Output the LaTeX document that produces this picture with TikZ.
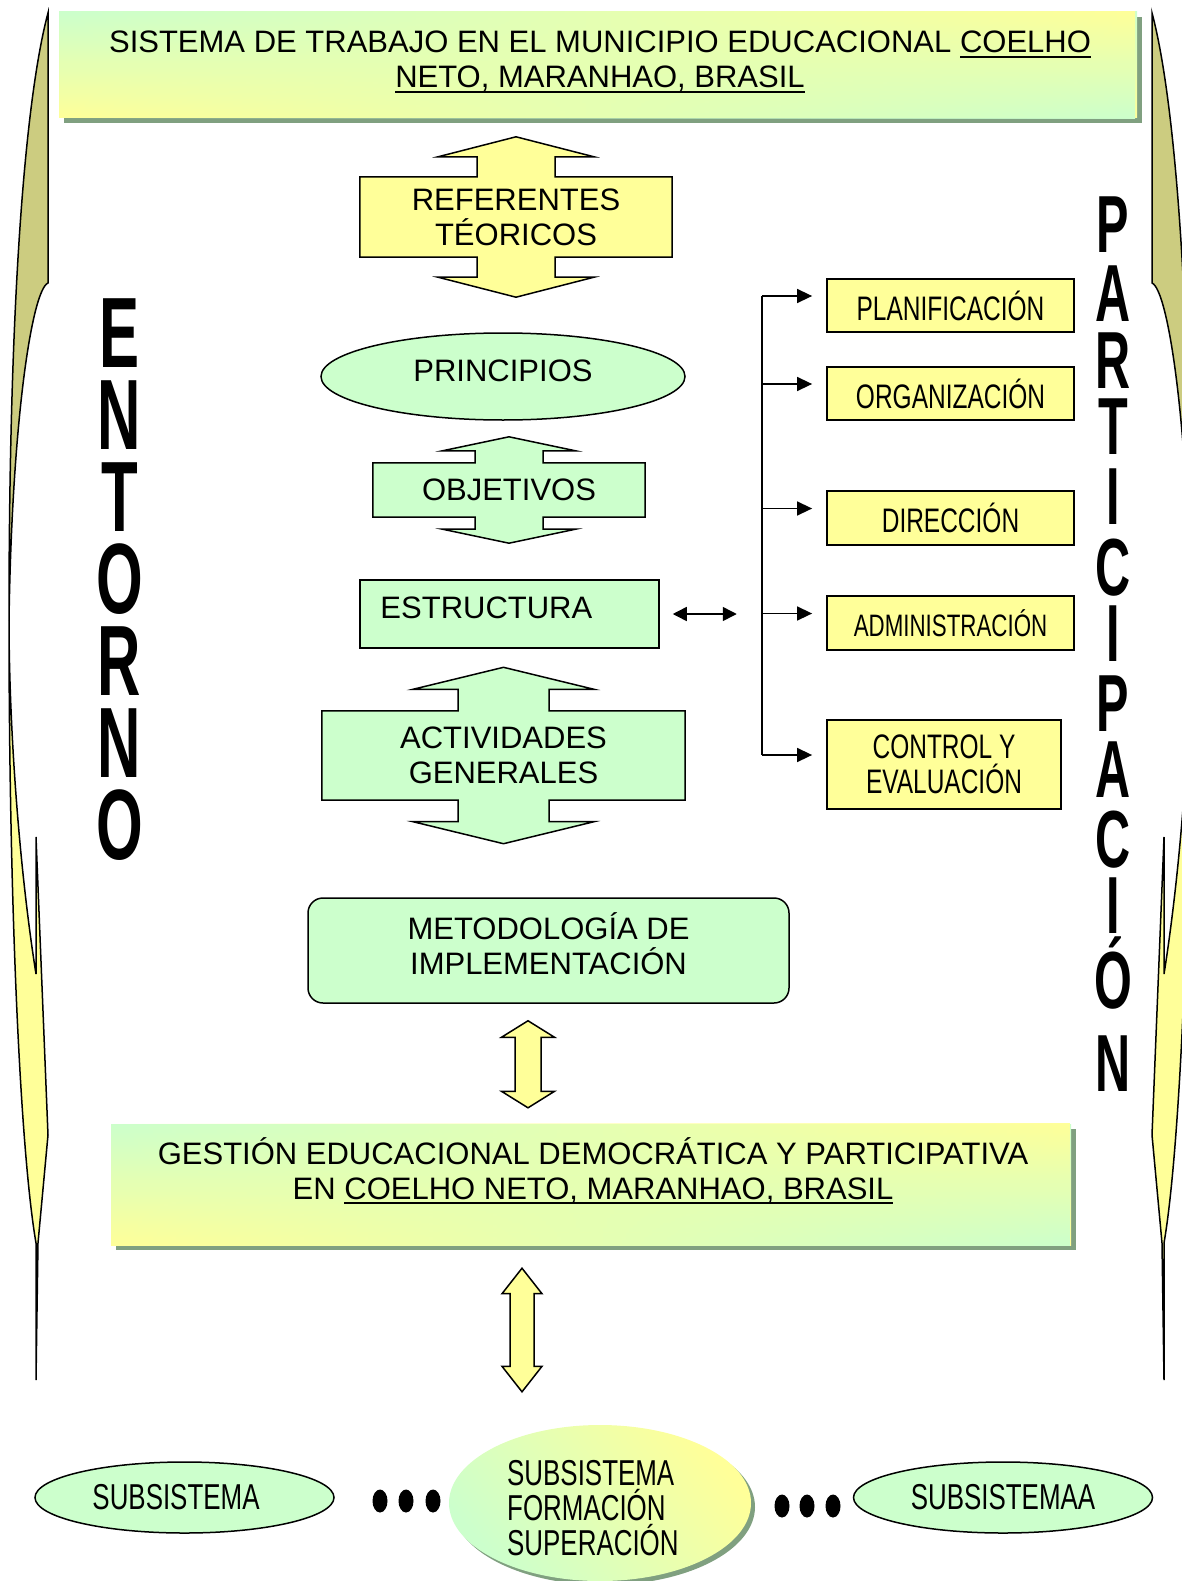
\documentclass[tikz,border=0pt]{standalone}
\usepackage{fontspec}
\setmainfont{Liberation Sans}
\newfontfamily\narrowfont[FakeStretch=0.72]{Liberation Sans}
\newfontfamily\tallfont[FakeStretch=0.6]{Liberation Sans Bold}
\usetikzlibrary{shapes.geometric,arrows.meta,calc,backgrounds,fadings,shadows}

\definecolor{cgreen}{RGB}{204,255,204}
\definecolor{cyellow}{RGB}{255,255,153}
\definecolor{colive}{RGB}{204,204,128}
\definecolor{cshadow}{RGB}{128,160,128}

\tikzfading[name=fadeinright, left color=transparent!100, right color=transparent!0]

\newcommand{\bodyfont}{\fontsize{31}{35}\selectfont}
\newcommand{\smallnarrow}{\narrowfont\fontsize{34}{35}\selectfont}
\newcommand{\undl}[1]{\setbox0\hbox{#1}\rlap{\rule[-5pt]{\wd0}{2pt}}\box0}

% up-down arrow callout round a node: name, style, shaft, head, neck, head length
\newcommand{\udcallout}[6]{%
  \draw[#2] (#1.north west) -- ($(#1.north)+(-#3,0)$) -- ($(#1.north)+(-#3,-#5)$)
    -- ($(#1.north)+(-#4,-#5)$) -- ($(#1.north)+(0,-#5-#6)$)
    -- ($(#1.north)+(#4,-#5)$) -- ($(#1.north)+(#3,-#5)$) -- ($(#1.north)+(#3,0)$)
    -- (#1.north east) -- (#1.south east)
    -- ($(#1.south)+(#3,0)$) -- ($(#1.south)+(#3,#5)$) -- ($(#1.south)+(#4,#5)$)
    -- ($(#1.south)+(0,#5+#6)$) -- ($(#1.south)+(-#4,#5)$) -- ($(#1.south)+(-#3,#5)$)
    -- ($(#1.south)+(-#3,0)$) -- (#1.south west) -- cycle;}

% block arrow with two heads: top tip, bottom tip, shaft, head, head length
\newcommand{\blockarrow}[5]{%
  \draw[ycall] (#1) -- ($(#1)+(#4,#5)$) -- ($(#1)+(#3,#5)$) -- ($(#2)+(#3,-#5)$)
    -- ($(#2)+(#4,-#5)$) -- (#2) -- ($(#2)+(-#4,-#5)$) -- ($(#2)+(-#3,-#5)$)
    -- ($(#1)+(-#3,#5)$) -- ($(#1)+(-#4,#5)$) -- cycle;}

\begin{document}
\begin{tikzpicture}[x=1pt, y=-1pt,
    gbox/.style={draw, fill=cgreen, line width=1.5pt},
    ybox/.style={draw, fill=cyellow, line width=1.8pt, minimum width=247pt, minimum height=53pt, align=center, font=\smallnarrow},
    shadebox/.style={top color=cgreen, bottom color=cyellow, drop shadow={shadow xshift=5pt, shadow yshift=-5pt, opacity=1, fill=cshadow}},
    gcall/.style={draw, fill=cgreen, line width=1.5pt},
    ycall/.style={draw, fill=cyellow, line width=1.5pt},
    oval/.style={ellipse, draw, fill=cgreen, line width=1.5pt},
    subtext/.style={font=\narrowfont\fontsize{36}{35}\selectfont},
    letter/.style={anchor=base, font=\tallfont\fontsize{#1}{#1}\selectfont},
    side/.style={draw, line width=1.5pt},
    conn/.style={line width=1.5pt},
    arr/.style={-{Triangle[length=15pt, width=14pt]}},
    dblarr/.style={{Triangle[length=14pt, width=14pt]}-{Triangle[length=14pt, width=14pt]}}]
\tikzstyle{every node}+=[inner sep=0pt, font=\bodyfont]
\useasboundingbox (0,0) rectangle (1181,1581);

% side arrows
\foreach \dx/\sx in {0/1, 1200/-1}{
  \begin{scope}[xshift=\dx pt, xscale=\sx]
    \draw[side, fill=colive] (48,13) -- (48,283) .. controls (32,290) and (12,420) .. (9,620)
      .. controls (9,250) and (30,80) .. (48,13) -- cycle;
    \draw[side, fill=cyellow] (9,620) .. controls (9,900) and (20,1150) .. (36,1243) -- (36,1380)
      -- (38,1243) -- (48,1135) -- (36,837) -- (36,974) .. controls (18,860) and (9,720) .. (9,620) -- cycle;
  \end{scope}
}

% title
\node[shadebox, minimum width=1078pt, minimum height=106pt] (tbox) at (598,65) {};
\shade[top color=cyellow, bottom color=cgreen, path fading=fadeinright] (tbox.north west) rectangle (tbox.south east);
\node[align=center] (title) at ([xshift=2,yshift=3]tbox.center)
  {SISTEMA DE TRABAJO EN EL MUNICIPIO EDUCACIONAL \undl{COELHO}\\\undl{NETO, MARANHAO, BRASIL}};

% central column
\node[minimum width=312pt, minimum height=80pt, align=center] (ref) at (516,217) {REFERENTES\\TÉORICOS};
\node[oval, minimum width=364pt, minimum height=87pt, text height=22pt, text depth=13pt] (prin) at (503,376.5) {PRINCIPIOS};
\node[minimum width=272pt, minimum height=54pt] (obj) at (509,490) {OBJETIVOS};
\node[gbox, minimum width=299pt, minimum height=68pt] (estr) at (509.5,614) {};
\node[anchor=base west] (estr-txt) at ([xshift=21,yshift=-4]estr.west) {ESTRUCTURA};
\node[minimum width=363pt, minimum height=89pt, align=center] (act) at (503.5,755.5) {ACTIVIDADES\\GENERALES};
\node[gbox, rounded corners=15pt, minimum width=481pt, minimum height=105pt] (metod) at (548.5,950.5) {};
\node[align=center] (metod-txt) at ([yshift=6.5]metod.center) {METODOLOGÍA DE\\IMPLEMENTACIÓN};

\begin{scope}[on background layer]
  \udcallout{ref}{ycall}{39}{78}{20}{20}
  \udcallout{obj}{gcall}{34}{66.5}{12}{14}
  \udcallout{act}{gcall}{45.5}{90.5}{21.5}{22}
\end{scope}

% right column
\node[ybox] (plan) at (950.5,305.5) {PLANIFICACIÓN};
\node[ybox] (org) at (950.5,393.5) {ORGANIZACIÓN};
\node[ybox, minimum height=54pt] (dir) at (950.5,518) {DIRECCIÓN};
\node[ybox, minimum height=54pt, font=\narrowfont\fontsize{31}{35}\selectfont] (adm) at (950.5,623) {ADMINISTRACIÓN};
\node[ybox, minimum width=234pt, minimum height=89pt] (ctl) at (944,764.5) {CONTROL Y\\EVALUACIÓN};

\coordinate (brk) at (762,0);
\foreach \b in {plan,org,dir,adm,ctl}
  \path ($(\b.west)+(0,-9.5)$) coordinate (\b-in);
\draw[conn] (plan-in -| brk) -- (ctl-in -| brk);
\foreach \b in {plan,org,dir,adm,ctl}
  \draw[conn, arr, shorten >=14pt] (\b-in -| brk) -- (\b-in);
\coordinate (estr-end) at ([xshift=77]estr.east);
\draw[conn, dblarr, shorten <=13pt] (estr.east) -- (estr-end);

% gestion
\node[shadebox, minimum width=960pt, minimum height=121pt] (gbox) at (591,1184.5) {};
\shade[top color=cyellow, bottom color=cgreen, path fading=fadeinright] (gbox.north west) rectangle (gbox.south east);
\node[align=center] (gestion) at ([xshift=2,yshift=13.5]gbox.center)
  {GESTIÓN EDUCACIONAL DEMOCRÁTICA Y PARTICIPATIVA\\EN \undl{COELHO NETO, MARANHAO, BRASIL}};

% subsystems
\node[oval, minimum width=299pt, minimum height=71pt] (sub1) at (184.5,1497.5) {};
\node[subtext] (sub1-txt) at ([xshift=-8.5]sub1.center) {SUBSISTEMA};
\node[oval, subtext, minimum width=299pt, minimum height=71pt] (sub3) at (1003,1497.5) {SUBSISTEMAA};
\node[ellipse, top color=cyellow, bottom color=cgreen, shading angle=-50, minimum width=302pt, minimum height=156pt,
  drop shadow={shadow xshift=4pt, shadow yshift=-4pt, opacity=1, fill=cshadow}] (subform) at (600,1503) {};
\node[subtext, align=left, anchor=west] (subform-txt) at ([xshift=-93,yshift=-5]subform.center)
  {SUBSISTEMA\\FORMACIÓN\\SUPERACIÓN};
\foreach \x in {380,406,433}
  \fill (\x,1501) ellipse [x radius=7.5, y radius=11.5];
\foreach \x in {782,807,833}
  \fill (\x,1506) ellipse [x radius=7.5, y radius=11.5];

% block arrows
\coordinate (a1-top) at ([xshift=-20.5,yshift=-17]metod.south);
\coordinate (a1-bot) at ([xshift=-63,yshift=16]gbox.north);
\coordinate (a2-top) at ([xshift=-69,yshift=-23]gbox.south);
\coordinate (a2-bot) at ([xshift=-78,yshift=33]subform.north);
\blockarrow{a1-top}{a1-bot}{13}{26.5}{16.5}
\blockarrow{a2-top}{a2-bot}{12}{20}{25.5}

% vertical words
\foreach \l [count=\i from 0] in {E,N,T,O,R,N,O}
  \node[letter=100] (ent-\i) at (119.5,{367+82*\i}) {\l};
\foreach \l/\y [count=\i from 0] in {P/252,A/321,R/388,T/454,I/524,C/595,I/661,P/731,A/797,C/867,I/933,Ó/1008,N/1091}
  \node[letter=81] (par-\i) at (1113,\y) {\l};
\end{tikzpicture}
\end{document}
